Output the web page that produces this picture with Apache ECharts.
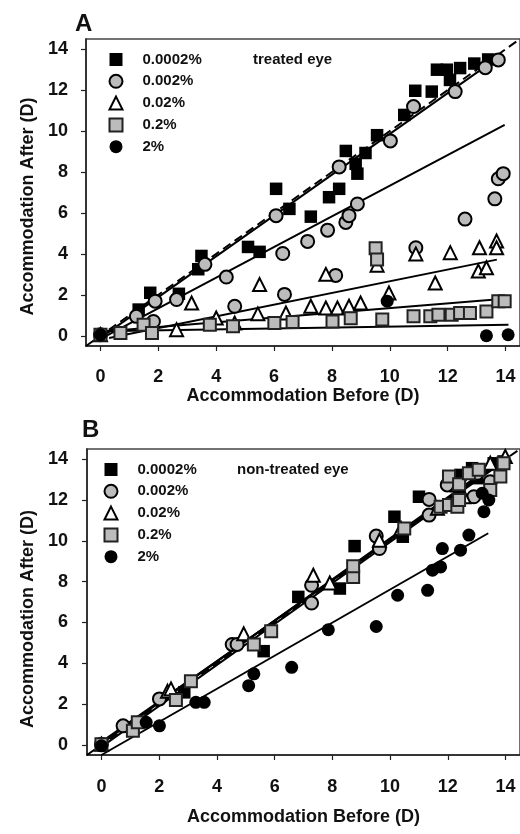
<!DOCTYPE html>
<html>
<head>
<meta charset="utf-8">
<script src="https://cdn.jsdelivr.net/npm/echarts@6/dist/echarts.min.js"></script>
<style>
  html, body { margin: 0; padding: 0; background: #fff; }
  #chart { width: 520px; height: 834px; }
</style>
</head>
<body>
<div id="chart"></div>
<script>
// Accommodation before vs. after treatment, by drug concentration.
const concentrations = ['0.0002%', '0.002%', '0.02%', '0.2%', '2%'];
const axisTicks = [0, 2, 4, 6, 8, 10, 12, 14];

// Panel A: treated eye, [before, after] in dioptres
const treated0002 = [[0,0.05],[1.32,1.28],[1.72,2.1],[2.71,2.05],[3.38,3.25],[3.49,3.9],[5.1,4.34],[5.5,4.1],[6.07,7.18],[6.53,6.2],[7.27,5.82],[7.9,6.77],[8.25,7.18],[8.48,9.03],[8.82,8.4],[8.88,7.92],[9.16,8.93],[9.56,9.8],[10.5,10.79],[10.88,11.97],[11.45,11.93],[11.63,13.0],[11.97,13.0],[12.08,12.5],[12.43,13.08],[12.92,13.3],[13.4,13.5]];
const treated002 = [[0,0.05],[1.24,0.95],[1.83,0.7],[1.89,1.69],[2.63,1.77],[3.61,3.49],[4.35,2.87],[4.64,1.44],[6.07,5.87],[6.3,4.02],[6.36,2.02],[7.16,4.61],[7.85,5.16],[8.13,2.95],[8.25,8.25],[8.48,5.54],[8.59,5.87],[8.88,6.44],[10.02,9.52],[10.9,4.3],[10.82,11.2],[12.26,11.93],[12.6,5.7],[13.3,13.1],[13.63,6.69],[13.75,7.67],[13.92,7.92],[13.75,13.48]];
const treated02 = [[0,0.05],[2.63,0.3],[3.15,1.6],[4.0,0.87],[4.64,0.62],[5.44,1.07],[5.5,2.5],[6.41,1.11],[7.27,1.44],[7.79,1.36],[7.79,3.0],[8.19,1.36],[8.59,1.44],[8.99,1.6],[9.56,3.45],[9.97,2.09],[10.9,4.0],[11.57,2.58],[12.09,4.06],[13.1,4.3],[13.06,3.16],[13.34,3.32],[13.69,4.63],[13.69,4.3]];
const treated2pct0 = [[0,0.05],[0.69,0.13],[1.49,0.54],[1.78,0.13],[3.78,0.54],[4.58,0.46],[6.01,0.62],[6.64,0.67],[8.02,0.7],[8.65,0.86],[9.51,4.27],[9.56,3.73],[9.74,0.79],[10.82,0.95],[11.4,0.95],[11.68,1.03],[12.14,1.03],[12.43,1.11],[12.77,1.11],[13.34,1.19],[13.75,1.69],[13.97,1.69]];
const treated2 = [[0,0.05],[9.91,1.69],[13.34,0.0],[14.09,0.05]];

// Panel A regression lines (end points)
const fitTreated0002 = [[0,-0.1],[13.9,13.75]];
const fitTreated002 = [[0.2,0.0],[13.97,10.3]];
const fitTreated02 = [[0.3,-0.11],[13.7,3.72]];
const fitTreated2pct0 = [[0,0.2],[13.75,1.78]];
const fitTreated2 = [[0,0.22],[14.1,0.54]];

// Panel B: non-treated eye
const nonTreated0002 = [[0,0.03],[2.87,2.57],[5.62,4.59],[6.82,7.25],[8.26,7.66],[8.77,9.74],[10.15,11.18],[10.44,10.2],[11.0,12.16],[12.21,13.07],[12.44,13.23],[12.84,13.56],[13.02,13.07],[13.59,13.8],[13.93,13.89]];
const nonTreated002 = [[0,0.03],[0.75,0.93],[2.01,2.25],[4.53,4.92],[4.7,4.92],[7.28,6.95],[7.28,7.82],[9.52,10.23],[9.63,9.62],[11.35,12.03],[11.35,11.26],[11.98,12.74],[12.9,12.16],[13.02,13.31],[13.47,12.9]];
const nonTreated02 = [[0,0.03],[2.29,2.62],[2.41,2.74],[4.93,5.44],[7.34,8.31],[7.91,7.93],[9.63,10.03],[10.38,10.6],[11.64,11.59],[12.33,12.74],[12.56,12.16],[13.47,13.8],[13.99,14.13]];
const nonTreated2pct0 = [[0,0.03],[1.09,0.69],[1.26,1.1],[2.58,2.2],[3.1,3.11],[5.28,4.92],[5.88,5.57],[8.72,8.23],[8.72,8.75],[10.49,10.6],[11.75,11.67],[12.04,11.75],[12.33,11.67],[12.04,13.15],[12.39,12.77],[12.39,12.0],[12.73,13.31],[13.07,13.48],[13.47,12.49],[13.82,13.15],[13.93,13.8]];
const nonTreated2 = [[0,-0.05],[1.55,1.1],[2.01,0.93],[3.27,2.08],[3.56,2.08],[5.1,2.9],[5.28,3.48],[6.59,3.8],[7.86,5.64],[9.52,5.8],[10.26,7.33],[11.3,7.57],[11.47,8.56],[11.75,8.72],[11.81,9.62],[12.44,9.54],[12.73,10.28],[13.25,11.43],[13.42,12.0],[13.19,12.33]];

// Panel B regression lines
const fitNonTreated0002 = [[0,0.05],[14.0,14.15]];
const fitNonTreated002 = [[0,0.15],[13.9,13.9]];
const fitNonTreated02 = [[0,0.1],[14.0,14.05]];
const fitNonTreated2pct0 = [[0,-0.1],[13.9,13.85]];
const fitNonTreated2 = [[0,-0.5],[13.4,10.37]];

// Line of equality
const identityLine = [[-0.5,-0.5],[14.5,14.5]];

const FONT = "'Liberation Sans', Arial, sans-serif";
const GRAY = '#bcbcbc';

// marker style per concentration
const markerStyles = [
  { symbol: 'rect', symbolSize: 12.5, itemStyle: { color: '#000', borderColor: '#000', borderWidth: 0, opacity: 1 } },
  { symbol: 'circle', symbolSize: 13, itemStyle: { color: GRAY, borderColor: '#000', borderWidth: 2, opacity: 1 } },
  { symbol: 'triangle', symbolSize: 13, itemStyle: { color: '#fff', borderColor: '#000', borderWidth: 2, opacity: 1 } },
  { symbol: 'rect', symbolSize: 12, itemStyle: { color: GRAY, borderColor: '#222', borderWidth: 2, opacity: 1 } },
  { symbol: 'circle', symbolSize: 13, itemStyle: { color: '#000', borderColor: '#000', borderWidth: 0, opacity: 1 } }
];

const panels = [
  { points: [treated0002, treated002, treated02, treated2pct0, treated2],
    fits: [fitTreated0002, fitTreated002, fitTreated02, fitTreated2pct0, fitTreated2] },
  { points: [nonTreated0002, nonTreated002, nonTreated02, nonTreated2pct0, nonTreated2],
    fits: [fitNonTreated0002, fitNonTreated002, fitNonTreated02, fitNonTreated2pct0, fitNonTreated2] }
];

const grids = [
  { left: 86, top: 39, width: 436, height: 307 },
  { left: 87, top: 449, width: 436, height: 306 }
];

const tickFont = { fontFamily: FONT, fontSize: 18, fontWeight: 'bold', color: '#111' };
const titleFont = { fontFamily: FONT, fontSize: 18, fontWeight: 'bold', color: '#111' };

function makeAxis(gridIndex, name, gap, labelMargin, namePadding) {
  return {
    type: 'value', gridIndex, min: -0.5, max: 14.5,
    name, nameLocation: 'middle', nameGap: gap,
    nameTextStyle: Object.assign({ padding: namePadding }, titleFont),
    axisLine: { show: true, onZero: false, lineStyle: { color: '#222', width: 1.5 } },
    axisTick: { show: true, inside: false, length: 5, customValues: axisTicks, lineStyle: { color: '#222', width: 1.2 } },
    axisLabel: Object.assign({ margin: labelMargin, customValues: axisTicks }, tickFont),
    splitLine: { show: false }
  };
}

const series = [];
panels.forEach((panel, p) => {
  series.push({
    type: 'line', xAxisIndex: p, yAxisIndex: p, data: identityLine,
    symbol: 'none', silent: true, z: 2,
    lineStyle: { color: '#000', width: 2, type: [9, 5] }
  });
  panel.fits.forEach((fit) => {
    series.push({
      type: 'line', xAxisIndex: p, yAxisIndex: p, data: fit,
      symbol: 'none', silent: true, z: 2,
      lineStyle: { color: '#000', width: 2 }
    });
  });
  panel.points.forEach((pts, i) => {
    series.push(Object.assign({
      name: concentrations[i], type: 'scatter', xAxisIndex: p, yAxisIndex: p,
      data: pts, z: 3
    }, JSON.parse(JSON.stringify(markerStyles[i]))));
  });
});

function makeLegend(left, top) {
  return {
    data: concentrations, orient: 'vertical', left, top, padding: 0,
    itemWidth: 13, itemHeight: 13, itemGap: 6.8,
    selectedMode: false,
    textStyle: { fontFamily: FONT, fontSize: 15, fontWeight: 'bold', color: '#111', padding: [0, 0, 0, 15] }
  };
}

const chart = echarts.init(document.getElementById('chart'), null, { renderer: 'canvas' });
chart.setOption({
  backgroundColor: '#fff',
  animation: false,
  grid: grids.map(g => Object.assign({ show: true, borderColor: '#444', borderWidth: 1.5, backgroundColor: 'transparent' }, g)),
  xAxis: [
    makeAxis(0, 'Accommodation Before (D)', 40, 22, 0),
    makeAxis(1, 'Accommodation Before (D)', 53, 23, 0)
  ],
  yAxis: [
    makeAxis(0, 'Accommodation After (D)', 47, 18, [0, 28, 0, 0]),
    makeAxis(1, 'Accommodation After (D)', 50, 19, [0, 34, 0, 0])
  ],
  legend: [makeLegend(108.5, 52), makeLegend(103.5, 462)],
  graphic: [
    { type: 'text', left: 75, top: 12, style: { text: 'A', fontFamily: FONT, fontSize: 24, fontWeight: 'bold', fill: '#111' } },
    { type: 'text', left: 82, top: 418, style: { text: 'B', fontFamily: FONT, fontSize: 24, fontWeight: 'bold', fill: '#111' } },
    { type: 'text', left: 253, top: 52, style: { text: 'treated eye', fontFamily: FONT, fontSize: 15, fontWeight: 'bold', fill: '#111' } },
    { type: 'text', left: 237, top: 462, style: { text: 'non-treated eye', fontFamily: FONT, fontSize: 15, fontWeight: 'bold', fill: '#111' } }
  ],
  series
});
</script>
</body>
</html>
